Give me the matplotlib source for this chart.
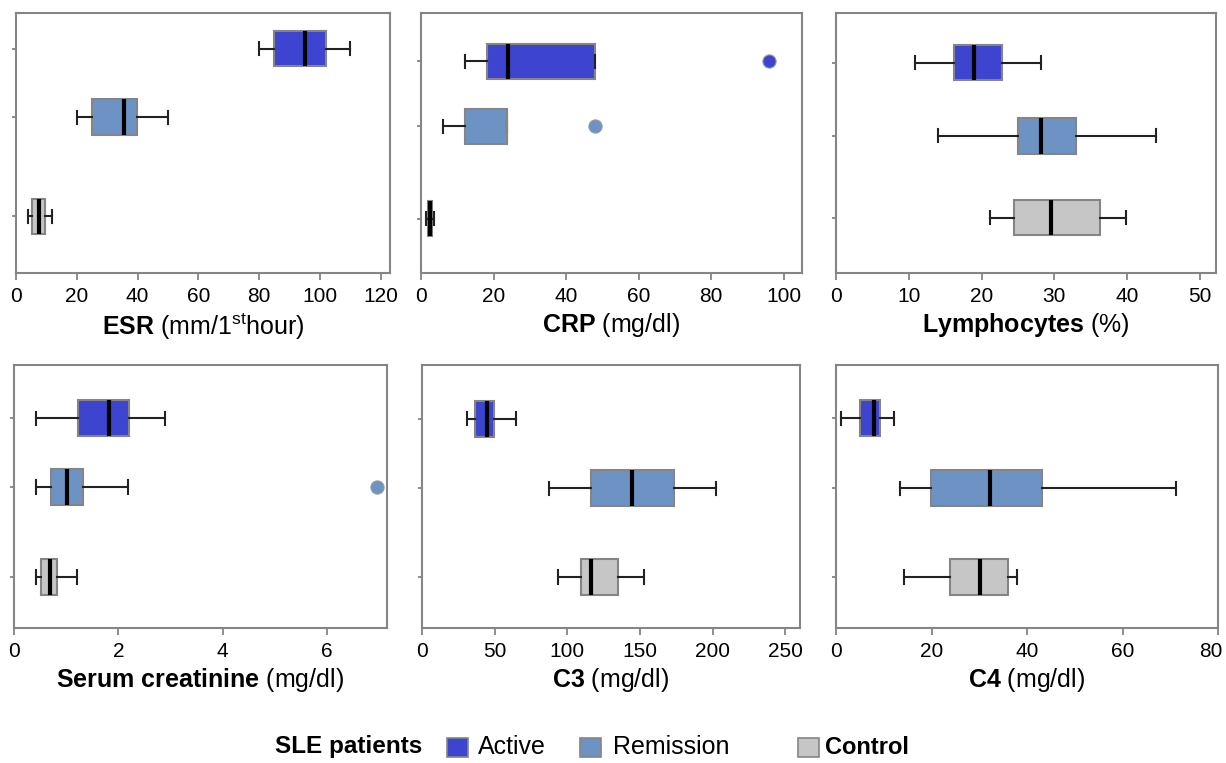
import matplotlib
matplotlib.use("Agg")
import matplotlib.pyplot as plt
from matplotlib.patches import Rectangle
from matplotlib.transforms import ScaledTranslation

plt.rcParams['font.family'] = ['Liberation Sans', 'DejaVu Sans']
plt.rcParams['mathtext.fontset'] = 'custom'
plt.rcParams['mathtext.rm'] = 'Liberation Sans'
plt.rcParams['mathtext.bf'] = 'Liberation Sans:bold'
plt.rcParams['mathtext.it'] = 'Liberation Sans:italic'

# ---------------- data ----------------
groups = ["Active", "Remission", "Control"]
colors = ["#3D44CF", "#6D93C4", "#C6C6C6"]

panel_titles_bold = ["ESR", "CRP", "Lymphocytes", "Serum\\ creatinine", "C3", "C4"]
panel_units = [" (mm/1$^{\\mathrm{st}}$hour)", " (mg/dl)", " (%)", " (mg/dl)", " (mg/dl)", " (mg/dl)"]

# each: [whislo, q1, med, q3, whishi] for Active, Remission, Control
esr = [[80, 85, 95, 102, 110], [20, 25, 35.4, 39.8, 50], [3.9, 5.3, 7.7, 9.5, 12]]
esr_out = [[], [], []]
crp = [[12.2, 18.2, 24, 48, 48], [6.2, 12.1, 23.8, 23.8, 23.8], [1.5, 2.0, 2.5, 3.0, 3.5]]
crp_out = [[96], [48], []]
lymph = [[10.9, 16.2, 19.0, 22.8, 28.1], [14.0, 25.0, 28.1, 33.0, 44.0], [21.1, 24.5, 29.5, 36.3, 39.8]]
lymph_out = [[], [], []]
creat = [[0.42, 1.23, 1.82, 2.21, 2.89], [0.42, 0.70, 1.01, 1.32, 2.19], [0.42, 0.51, 0.69, 0.83, 1.20]]
creat_out = [[], [6.95], []]
c3 = [[31.2, 36.5, 45, 49.5, 64.4], [87.6, 116.5, 144.3, 173.6, 202.3], [93.3, 109.6, 116.5, 134.9, 152.5]]
c3_out = [[], [], []]
c4 = [[1.0, 5.0, 7.9, 9.3, 12.1], [13.4, 19.9, 32.2, 43.2, 71.1], [14.2, 23.8, 30.1, 36.0, 38.0]]
c4_out = [[], [], []]

panels = [esr, crp, lymph, creat, c3, c4]
outliers = [esr_out, crp_out, lymph_out, creat_out, c3_out, c4_out]
xticks = [list(range(0, 121, 20)), list(range(0, 101, 20)), list(range(0, 51, 10)),
          [0, 2, 4, 6], list(range(0, 251, 50)), list(range(0, 81, 20))]

# ---------------- layout ----------------
W, H = 1226, 763
boxes_px = [(16, 13, 390, 273), (421, 13, 802, 273), (836, 13, 1216, 273),
            (14, 365, 387, 628), (422, 365, 800, 628), (836, 365, 1218, 628)]
xlims = [123, 105, 52.2, 7.15, 260, 80]
ypos = [[0.862, 0.600, 0.219], [0.815, 0.565, 0.208], [0.808, 0.527, 0.212],
        [0.798, 0.536, 0.194], [0.795, 0.532, 0.194], [0.798, 0.532, 0.194]]
hide_median = {(1, 1)}

fig = plt.figure(figsize=(W / 100, H / 100), dpi=100)
grey = "#858585"

for i in range(6):
    l, t, r, b = boxes_px[i]
    ax = fig.add_axes([l / W, 1 - b / H, (r - l) / W, (b - t) / H])
    stats = []
    for g in range(3):
        lo, q1, med, q3, hi = panels[i][g]
        stats.append(dict(whislo=lo, q1=q1, med=med, q3=q3, whishi=hi, fliers=outliers[i][g]))
    res = ax.bxp(stats, positions=ypos[i], widths=0.135, capwidths=0.05, vert=False,
                 patch_artist=True, manage_ticks=False,
                 boxprops=dict(edgecolor=grey, linewidth=1.5),
                 medianprops=dict(color="black", linewidth=3, solid_capstyle="butt"),
                 whiskerprops=dict(color="#222222", linewidth=1.5),
                 capprops=dict(color="#222222", linewidth=1.5),
                 flierprops=dict(marker="o", markersize=9.5, markeredgecolor="#9a9a9a",
                                 markeredgewidth=0.8))
    for g, patch in enumerate(res["boxes"]):
        patch.set_facecolor(colors[g])
    for g, fl in enumerate(res["fliers"]):
        fl.set_markerfacecolor(colors[g])
    for (pi, g) in hide_median:
        if pi == i:
            res["medians"][g].set_color(grey)
            res["medians"][g].set_linewidth(1.5)
    ax.set_xlim(0, xlims[i])
    ax.set_ylim(0, 1)
    ax.set_xticks(xticks[i])
    ax.set_yticks(ypos[i])
    ax.set_yticklabels([])
    for s in ax.spines.values():
        s.set_color(grey)
        s.set_linewidth(1.5)
    ax.tick_params(axis="x", direction="out", length=5, width=1.3, color=grey,
                   labelsize=15, pad=5, labelcolor="black")
    ax.tick_params(axis="y", direction="out", length=3, width=1.3, color=grey)
    ax.set_xlabel("$\\mathbf{" + panel_titles_bold[i] + "}$" + panel_units[i],
                  fontsize=18, labelpad=4)
    if i == 5:
        lab = ax.get_xticklabels()[-1]
        lab.set_transform(lab.get_transform() + ScaledTranslation(-0.07, 0, fig.dpi_scale_trans))

# ---------------- legend ----------------
ly = 1 - 747 / H
fig.text(275 / W, ly, "SLE patients", fontsize=17.5, fontweight="bold", va="center", ha="left")
legend_items = [("Active", 447, 478, "normal"), ("Remission", 580, 613, "normal"),
                ("Control", 798, 825, "bold")]
for k, (name, sx, tx, wt) in enumerate(legend_items):
    fig.add_artist(Rectangle((sx / W, 1 - 757 / H), 21 / W, 19 / H, transform=fig.transFigure,
                             facecolor=colors[k], edgecolor=grey, linewidth=1.2))
    fig.text(tx / W, ly, name, fontsize=18 if wt == "normal" else 17, fontweight=wt,
             va="center", ha="left")

fig.savefig("out.png", dpi=100)
